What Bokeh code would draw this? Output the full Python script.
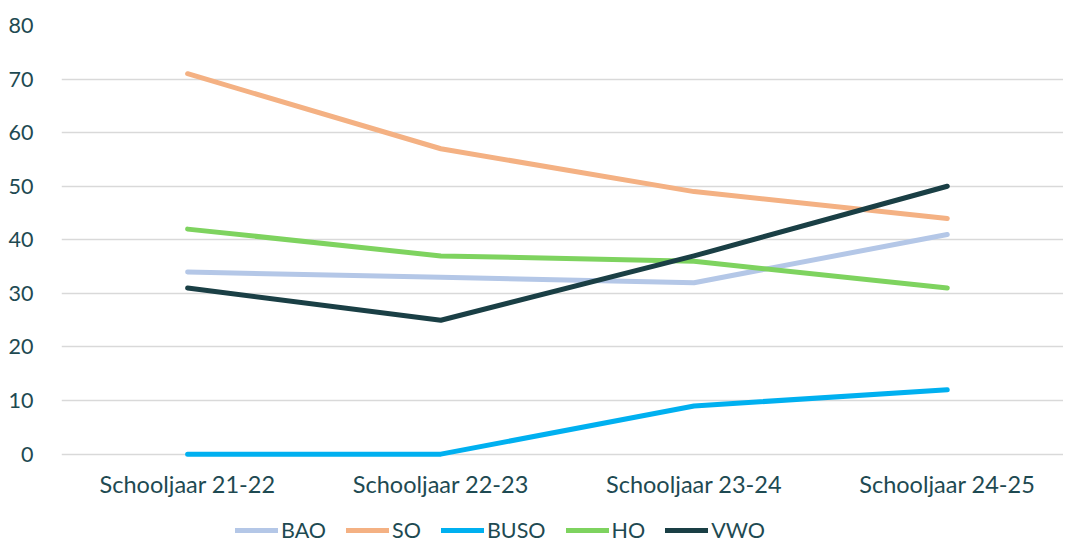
from bokeh.plotting import figure
from bokeh.models import Range1d, Legend, LegendItem, FixedTicker
from bokeh.embed import file_html
from bokeh.resources import INLINE

categories = ["Schooljaar 21-22", "Schooljaar 22-23", "Schooljaar 23-24", "Schooljaar 24-25"]
bao = [34, 33, 32, 41]
so = [71, 57, 49, 44]
buso = [0, 0, 9, 12]
ho = [42, 37, 36, 31]
vwo = [31, 25, 37, 50]
y_ticks = [0, 10, 20, 30, 40, 50, 60, 70, 80]

series = [("BAO", bao, "#B4C7E7"), ("SO", so, "#F4B183"), ("BUSO", buso, "#00B0F0"),
          ("HO", ho, "#7ED35F"), ("VWO", vwo, "#1A3F45")]

TEXT = "#1E4A52"
FONT = "Lato"

p = figure(width=1063, height=544, output_backend="svg", toolbar_location=None,
           x_range=Range1d(-0.498, 3.459), y_range=Range1d(-16.86, 80),
           min_border_top=25, min_border_left=61, min_border_right=0, min_border_bottom=0)
p.outline_line_color = None
p.background_fill_color = "white"
p.border_fill_color = "white"

xs = list(range(len(categories)))
items = []
for name, vals, col in series:
    r = p.line(xs, vals, line_color=col, line_width=5, line_cap="round", line_join="round")
    items.append(LegendItem(label=name, renderers=[r]))

p.xaxis.ticker = FixedTicker(ticks=xs)
p.xaxis.major_label_overrides = {i: c for i, c in enumerate(categories)}
p.xaxis.fixed_location = -1
p.yaxis.ticker = FixedTicker(ticks=y_ticks)
for ax in (p.xaxis[0], p.yaxis[0]):
    ax.axis_line_color = None
    ax.major_tick_line_color = None
    ax.minor_tick_line_color = None
    ax.major_label_text_font = FONT
    ax.major_label_text_color = TEXT
p.xaxis.major_label_text_font_size = "23.5px"
p.yaxis.major_label_text_font_size = "21.5px"
p.yaxis.major_label_standoff = 22
p.xaxis.major_label_standoff = 4
p.xgrid.grid_line_color = None
p.ygrid.grid_line_color = "#D9D9D9"
p.ygrid.grid_line_width = 1.5
p.ygrid.ticker = FixedTicker(ticks=y_ticks)

legend = Legend(items=items, orientation="horizontal", location=(174, 1),
                label_text_font=FONT, label_text_font_size="21.5px", label_text_color=TEXT,
                glyph_width=43, label_standoff=3, spacing=20, padding=0, margin=0,
                border_line_color=None, background_fill_alpha=0)
p.add_layout(legend)

open("out.html", "w").write(file_html(p, INLINE))
